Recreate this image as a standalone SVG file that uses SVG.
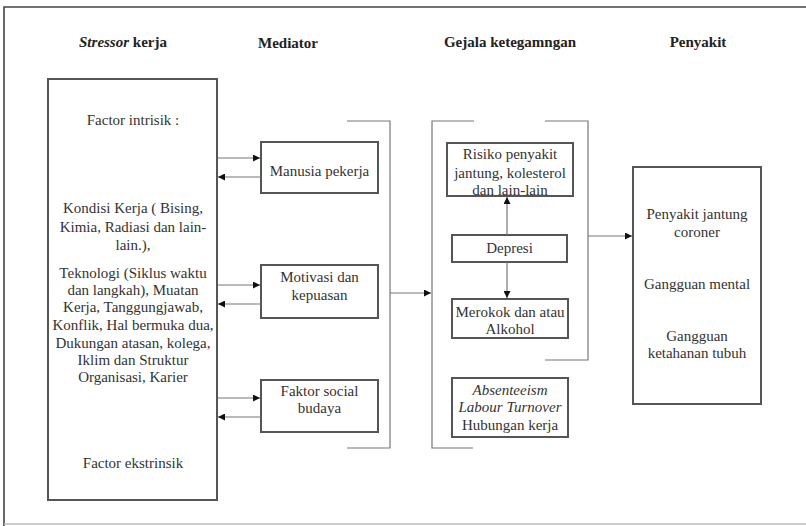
<svg xmlns="http://www.w3.org/2000/svg" width="806" height="526" viewBox="0 0 806 526">
<defs>
<style>
.t{font-family:"Liberation Serif","DejaVu Serif",serif;font-size:15px;fill:#333;text-anchor:middle}
.h{font-family:"Liberation Serif","DejaVu Serif",serif;font-size:15px;font-weight:bold;fill:#222;text-anchor:middle}
.box{fill:#fff;stroke:#555;stroke-width:2}
.ln{fill:none;stroke:#777;stroke-width:1.2}
.ar{fill:none;stroke:#777;stroke-width:1.2;marker-end:url(#ah)}
</style>
<marker id="ah" viewBox="0 0 10 10" refX="10" refY="5" markerWidth="7" markerHeight="7" markerUnits="userSpaceOnUse" orient="auto">
<path d="M0,0 L10,5 L0,10 z" fill="#111"/>
</marker>
</defs>
<rect width="806" height="526" fill="#fff"/>
<g id="frame">
<path d="M4,526 V7 H806" fill="none" stroke="#444" stroke-width="1.6"/>
<path d="M4,524 H806" fill="none" stroke="#bbb" stroke-width="1.5"/>
</g>
<g id="headers">
<text class="h" x="123" y="47"><tspan font-style="italic">Stressor</tspan> kerja</text>
<text class="h" x="288" y="48">Mediator</text>
<text class="h" x="510" y="47">Gejala ketegamngan</text>
<text class="h" x="698" y="47">Penyakit</text>
</g>
<g id="stressor">
<rect class="box" x="48" y="79" width="169" height="421"/>
<text class="t" x="133" y="125">Factor intrisik :</text>
<text class="t" x="133" y="213">Kondisi Kerja ( Bising,</text>
<text class="t" x="133" y="232">Kimia, Radiasi dan lain-</text>
<text class="t" x="133" y="250">lain.),</text>
<text class="t" x="133" y="278">Teknologi (Siklus waktu</text>
<text class="t" x="133" y="295">dan langkah), Muatan</text>
<text class="t" x="133" y="312">Kerja, Tanggungjawab,</text>
<text class="t" x="133" y="330">Konflik, Hal bermuka dua,</text>
<text class="t" x="133" y="348">Dukungan atasan, kolega,</text>
<text class="t" x="133" y="365">Iklim dan Struktur</text>
<text class="t" x="133" y="382">Organisasi, Karier</text>
<text class="t" x="133" y="468">Factor ekstrinsik</text>
</g>
<g id="manusia">
<rect class="box" x="261" y="142" width="117" height="51"/>
<text class="t" x="319.500" y="176">Manusia pekerja</text>
</g>
<g id="motivasi">
<rect class="box" x="261" y="265" width="117" height="53"/>
<text class="t" x="319.500" y="282">Motivasi dan</text>
<text class="t" x="319.500" y="300">kepuasan</text>
</g>
<g id="sosial">
<rect class="box" x="261" y="380" width="117" height="52"/>
<text class="t" x="319.500" y="396">Faktor social</text>
<text class="t" x="319.500" y="413">budaya</text>
</g>
<g id="risiko">
<rect class="box" x="447" y="143" width="126" height="53"/>
<text class="t" x="510" y="159">Risiko penyakit</text>
<text class="t" x="510" y="178">jantung, kolesterol</text>
<text class="t" x="510" y="195">dan lain-lain</text>
</g>
<g id="depresi">
<rect class="box" x="452" y="235" width="115" height="27"/>
<text class="t" x="509.500" y="253">Depresi</text>
</g>
<g id="merokok">
<rect class="box" x="452" y="299" width="116" height="39"/>
<text class="t" x="510" y="317">Merokok dan atau</text>
<text class="t" x="510" y="334">Alkohol</text>
</g>
<g id="absenteeism">
<rect class="box" x="452" y="378" width="116" height="59"/>
<text class="t" x="510" y="395" font-style="italic">Absenteeism</text>
<text class="t" x="510" y="412" font-style="italic">Labour Turnover</text>
<text class="t" x="510" y="430">Hubungan kerja</text>
</g>
<g id="penyakit">
<rect class="box" x="633" y="167" width="128" height="237"/>
<text class="t" x="697" y="219">Penyakit jantung</text>
<text class="t" x="697" y="237">coroner</text>
<text class="t" x="697" y="289">Gangguan mental</text>
<text class="t" x="697" y="341">Gangguan</text>
<text class="t" x="697" y="358">ketahanan tubuh</text>
</g>
<g id="connectors">
<path class="ar" d="M218,158 H260"/>
<path class="ar" d="M261,177 H218"/>
<path class="ar" d="M218,285 H260"/>
<path class="ar" d="M261,304 H218"/>
<path class="ar" d="M218,398 H260"/>
<path class="ar" d="M261,417 H218"/>
<path class="ln" d="M347,121 H390 V448 H347"/>
<path class="ar" d="M390,293 H431"/>
<path class="ln" d="M474,121 H432 V448 H473"/>
<path class="ln" d="M545,121 H588 V360 H545"/>
<path class="ar" d="M507,235 V197"/>
<path class="ar" d="M507,262 V298"/>
<path class="ar" d="M588,236 H632"/>
</g>
</svg>
